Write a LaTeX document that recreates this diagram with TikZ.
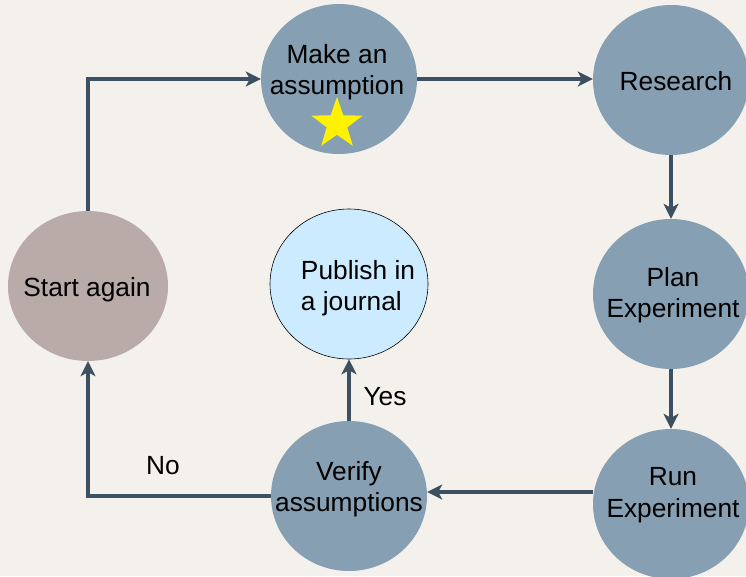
\documentclass[tikz,border=0pt]{standalone}
\usepackage{fontspec}
\setmainfont{Liberation Sans}
\usetikzlibrary{shapes.geometric,arrows.meta}
\definecolor{bgc}{HTML}{F4F1EC}
\definecolor{stepfill}{HTML}{869FB2}
\definecolor{startfill}{HTML}{B8ABA8}
\definecolor{pubfill}{HTML}{CCEBFF}
\definecolor{linec}{HTML}{3C5061}
\tikzset{
  bubble/.style={ellipse, minimum width=156pt, minimum height=150pt, inner sep=0pt, fill=stepfill},
  txt/.style={font=\fontsize{26.3}{31.5}\selectfont, align=center, inner sep=0pt, text=black},
  conn/.style={draw=linec, line width=3.5pt, -{Stealth[length=15pt,width=15pt,inset=4pt]}},
  lbl/.style={font=\fontsize{26.3}{30}\selectfont, inner sep=0pt}
}
\begin{document}
\begin{tikzpicture}[x=1pt,y=-1pt]
\fill[bgc] (0,0) rectangle (746,576);
\useasboundingbox (0,0) rectangle (746,576);
% circles
\node[bubble] (A) at (339,79) {};
\node[bubble] (R) at (671,80) {};
\node[bubble] (P) at (671,294) {};
\node[bubble] (U) at (671,504) {};
\node[bubble] (V) at (349,496) {};
\node[bubble, minimum width=158pt, fill=pubfill, draw=black, line width=0.6pt] (J) at (349,284) {};
\node[bubble, minimum width=160pt, fill=startfill] (S) at (88,286) {};
% star
\node[star, star points=5, star point ratio=2.5, minimum size=54pt, inner sep=0pt, fill=yellow] (st) at (337,124) {};
% texts
\node[txt] (tA) at (337,72) {Make an\\assumption};
\node[txt] (tR) at (676,81) {Research};
\node[txt] (tP) at (673,295) {Plan\\Experiment};
\node[txt] (tU) at (673,495) {Run\\Experiment};
\node[txt] (tV) at (349,489) {Verify\\assumptions};
\node[txt, align=left] (tJ) at (358,288) {Publish in\\a journal};
\node[txt] (tS) at (87,290) {Start again};
% connectors
\draw[conn] (S.north) |- (A.west);
\draw[conn] (A.east) -- (A.east -| R.west);
\draw[conn] (R.south) -- (P.north);
\draw[conn] (P.south) -- (U.north);
\draw[conn] ([yshift=12pt]U.west) -- ([yshift=4pt]V.east);
\draw[conn] (V.west) -| (S.south);
\draw[conn] (V.north) -- (J.south);
% labels
\node[lbl] (no) at (163,466) {No};
\node[lbl] (yes) at (385,397) {Yes};
\end{tikzpicture}
\end{document}
